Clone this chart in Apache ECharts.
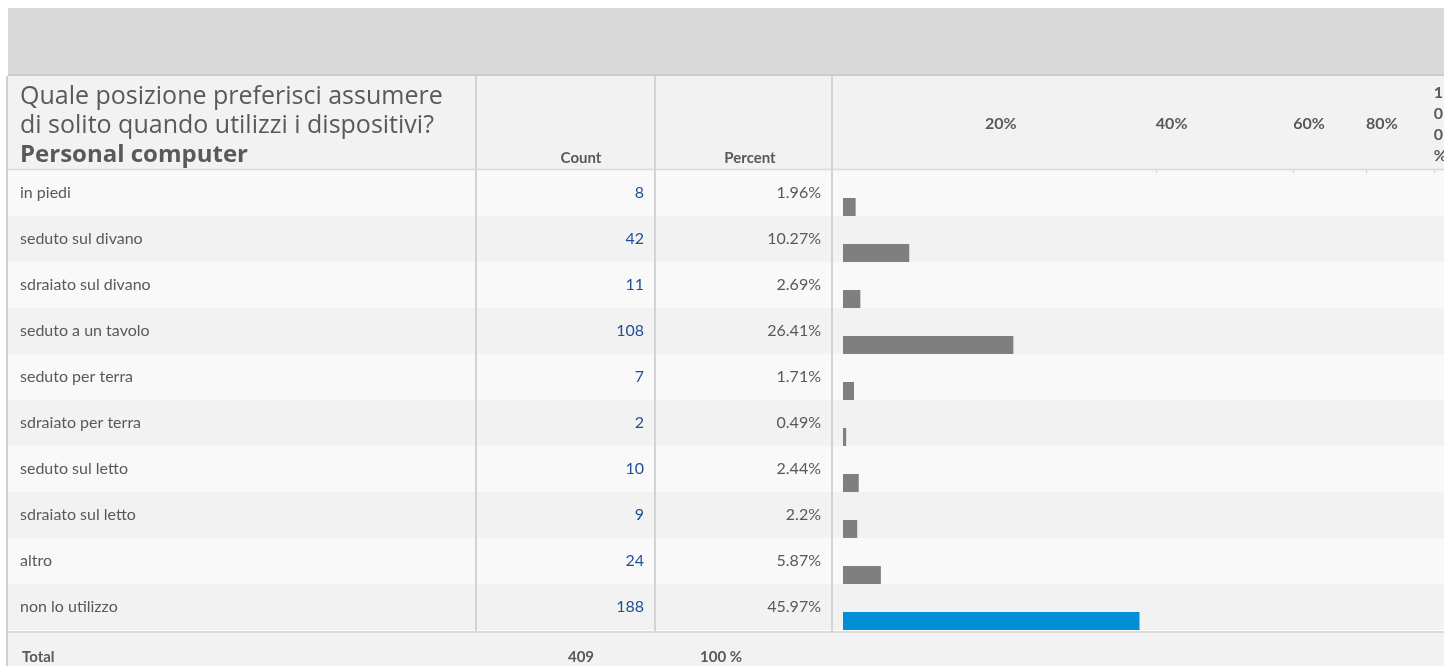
<!DOCTYPE html>
<html>
<head>
<meta charset="utf-8">
<script src="https://cdn.jsdelivr.net/npm/echarts@6/dist/echarts.min.js"></script>
<style>
  html, body { margin: 0; padding: 0; background: #ffffff; }
  #chart { width: 1444px; height: 666px; }
</style>
</head>
<body>
<div id="chart"></div>
<script>
// risposte (domanda: posizione preferita - Personal computer)
var categories = ["in piedi", "seduto sul divano", "sdraiato sul divano", "seduto a un tavolo", "seduto per terra",
  "sdraiato per terra", "seduto sul letto", "sdraiato sul letto", "altro", "non lo utilizzo"];
var counts = [8, 42, 11, 108, 7, 2, 10, 9, 24, 188];
var percents = [1.96, 10.27, 2.69, 26.41, 1.71, 0.49, 2.44, 2.2, 5.87, 45.97];
// etichette asse in testata (posizioni come nell'originale)
var tickLabels = ["20%", "40%", "60%", "80%", "100%"];
var tickAt = [22, 48.5, 69.8, 81.1, 91.6];

var totalCount = counts.reduce(function (a, b) { return a + b; }, 0);
var maxVal = Math.max.apply(null, percents);

var txt = "#595959";
var lineCol = "#d3d3d3";
var bodyFont = "Lato";

function text(str, x, y, font, align, color) {
  return {
    type: "text", z: 100, silent: true,
    style: {
      text: str, x: x, y: y, font: font, fill: color || txt,
      textAlign: align || "left", align: align || "left",
      textVerticalAlign: "middle", verticalAlign: "middle"
    }
  };
}
function vline(x, y1, y2, color, w) {
  return { type: "line", z: 90, silent: true, shape: { x1: x, y1: y1, x2: x, y2: y2 }, style: { stroke: color || lineCol, lineWidth: w || 2 } };
}
function hline(y, color, w) {
  return { type: "line", z: 90, silent: true, shape: { x1: 8, y1: y, x2: 1444, y2: y }, style: { stroke: color, lineWidth: w || 2 } };
}

var myChart = echarts.init(document.getElementById("chart"));
var option = {
  backgroundColor: "#ffffff",
  animation: false,
  grid: [
    { left: 8, right: 0, top: 170, height: 460, outerBoundsMode: "none" }, // righe tabella
    { left: 843, width: 645, top: 184, height: 460, outerBoundsMode: "none" } // barre (100% esce dal bordo)
  ],
  xAxis: [
    { gridIndex: 0, type: "value", show: false, min: 0, max: 1 },
    {
      gridIndex: 1, type: "value", min: 0, max: 100, position: "top", offset: 14, z: 120,
      axisLine: { show: false },
      splitLine: { show: false },
      axisTick: { show: true, inside: true, length: 3, customValues: tickAt.slice(1), lineStyle: { color: "#cfcfcf" } },
      axisLabel: {
        show: true,
        customValues: tickAt,
        margin: 46, align: "left", verticalAlign: "middle",
        color: txt, fontFamily: bodyFont, fontWeight: "bold", fontSize: 16, lineHeight: 21,
        formatter: function (v) {
          var i = -1;
          for (var k = 0; k < tickAt.length; k++) if (Math.abs(tickAt[k] - v) < 0.01) i = k;
          var s = i >= 0 ? tickLabels[i] : "";
          if (s === "100%") s = s.split("").join("\n"); // colonna troppo stretta
          return s;
        }
      }
    }
  ],
  yAxis: [
    {
      gridIndex: 0, type: "category", position: "left", inverse: true, data: categories,
      axisLine: { show: false }, axisTick: { show: false },
      splitArea: { show: true, areaStyle: { color: ["#f9f9f9", "#f2f2f2"] } },
      axisLabel: { inside: true, margin: 12, align: "left", padding: [5, 0, 0, 0], color: txt, fontFamily: bodyFont, fontSize: 16 }
    },
    {
      gridIndex: 0, type: "category", position: "left", inverse: true, data: categories,
      axisLine: { show: false }, axisTick: { show: false },
      axisLabel: {
        inside: true, margin: 636, align: "right", padding: [4, 0, 0, 0], color: "#1f4e9a", fontFamily: bodyFont, fontSize: 16,
        formatter: function (v, i) { return String(counts[i]); }
      }
    },
    {
      gridIndex: 0, type: "category", position: "left", inverse: true, data: categories,
      axisLine: { show: false }, axisTick: { show: false },
      axisLabel: {
        inside: true, margin: 813, align: "right", padding: [4, 0, 0, 0], color: txt, fontFamily: bodyFont, fontSize: 16,
        formatter: function (v, i) { return percents[i] + "%"; }
      }
    },
    { gridIndex: 1, type: "category", position: "left", inverse: true, data: categories, show: false }
  ],
  series: [
    {
      type: "bar", xAxisIndex: 1, yAxisIndex: 3, barWidth: 18, silent: true,
      data: percents.map(function (v) {
        return { value: v, itemStyle: { color: v === maxVal ? "#008fd5" : "#7f7f7f" } };
      })
    }
  ],
  graphic: [
    { type: "rect", z: 80, silent: true, shape: { x: 8, y: 8, width: 1436, height: 67 }, style: { fill: "#d9d9d9" } },
    { type: "rect", z: 80, silent: true, shape: { x: 8, y: 76, width: 1436, height: 93 }, style: { fill: "#f2f2f2" } },
    { type: "rect", z: 80, silent: true, shape: { x: 8, y: 633, width: 1436, height: 33 }, style: { fill: "#f2f2f2" } },
    hline(75, "#cccccc", 2),
    hline(169.5, "#dadada", 1.5),
    hline(632, "#dadada", 2),
    vline(7, 76, 666, "#d0d0d0", 2),
    vline(476, 76, 631),
    vline(655, 76, 631),
    vline(832, 76, 631),
    text("Quale posizione preferisci assumere", 20, 97, 'normal 25px "Open Sans"'),
    text("di solito quando utilizzi i dispositivi?", 20, 126, 'normal 25px "Open Sans"'),
    text("Personal computer", 20, 155, 'bold 24px "Open Sans"'),
    text("Count", 581, 158, "bold 15px " + bodyFont, "center"),
    text("Percent", 750, 158, "bold 15px " + bodyFont, "center"),
    text("Total", 22, 657, "bold 15px " + bodyFont),
    text(String(totalCount), 581, 657, "bold 15px " + bodyFont, "center"),
    text("100 %", 721, 657, "bold 15px " + bodyFont, "center")
  ]
};
myChart.setOption(option);
</script>
</body>
</html>
